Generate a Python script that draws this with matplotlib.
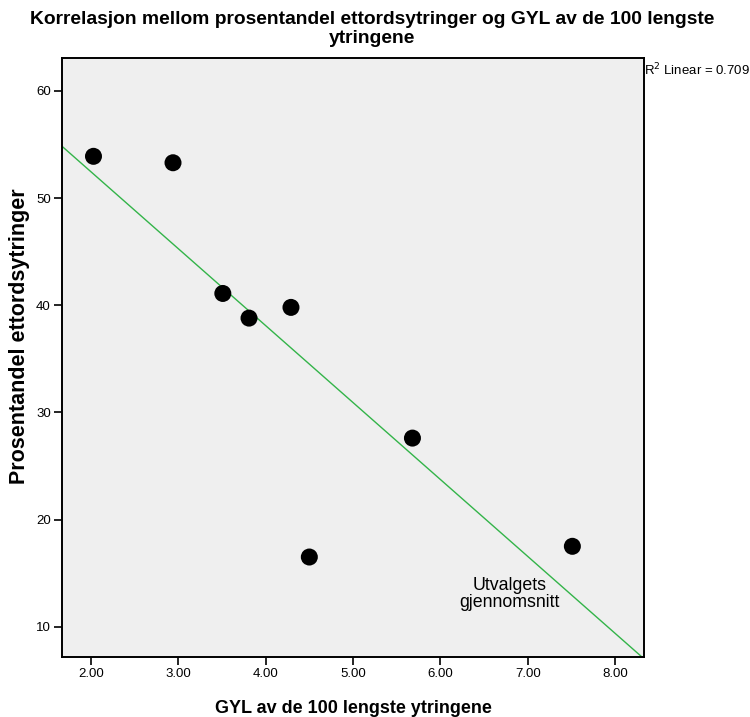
import numpy as np
import matplotlib.pyplot as plt

plt.rcParams.update({'font.family': ['Liberation Sans', 'DejaVu Sans']})

# GYL (mean utterance length) vs. share of one-word utterances
gyl = [2.03, 2.94, 3.51, 3.81, 4.29, 4.50, 5.68, 7.51]
ettord = [53.9, 53.3, 41.1, 38.8, 39.8, 16.5, 27.6, 17.5]
x_ticks = [2, 3, 4, 5, 6, 7, 8]
y_ticks = [10, 20, 30, 40, 50, 60]
r2_text = 'R$^2$ Linear = 0.709'

fig = plt.figure(figsize=(7.5, 7.17), dpi=100)
ax = fig.add_axes([0.0827, 0.0837, 0.776, 0.835])
ax.set_facecolor('#EFEFEF')
xlim = (1.67, 8.33)
ax.set_xlim(*xlim)
ax.set_ylim(7.17, 63.05)

# least-squares fit line across the full x range
b, a = np.polyfit(gyl, ettord, 1)
xs = np.array(xlim)
ax.plot(xs, a + b * xs, color='#33B449', lw=1.0, zorder=2)

ax.scatter(gyl, ettord, s=150, color='black', edgecolor='none', zorder=3)

ax.set_xticks(x_ticks)
ax.set_xticklabels([f'{v:.2f}' for v in x_ticks])
ax.set_yticks(y_ticks)
ax.tick_params(direction='out', length=6, width=1.2, labelsize=9.5, pad=2)
for s in ax.spines.values():
    s.set_linewidth(1.4)

ax.set_xlabel('GYL av de 100 lengste ytringene', fontsize=13, fontweight='bold', labelpad=14)
ax.set_ylabel('Prosentandel ettordsytringer', fontsize=15.5, fontweight='bold')
ax.yaxis.set_label_coords(-0.055, 0.536)
fig.text(0.4967, 0.984,
         'Korrelasjon mellom prosentandel ettordsytringer og GYL av de 100 lengste\nytringene',
         ha='center', va='top', fontsize=13.9, fontweight='bold', linespacing=1.1)

ax.text(6.79, 13.05, 'Utvalgets\ngjennomsnitt', ha='center', va='center', fontsize=12.8,
        linespacing=1.0)
fig.text(0.859, 0.902, r2_text, ha='left', va='center', fontsize=9.5)

fig.savefig('out.png', dpi=100)
